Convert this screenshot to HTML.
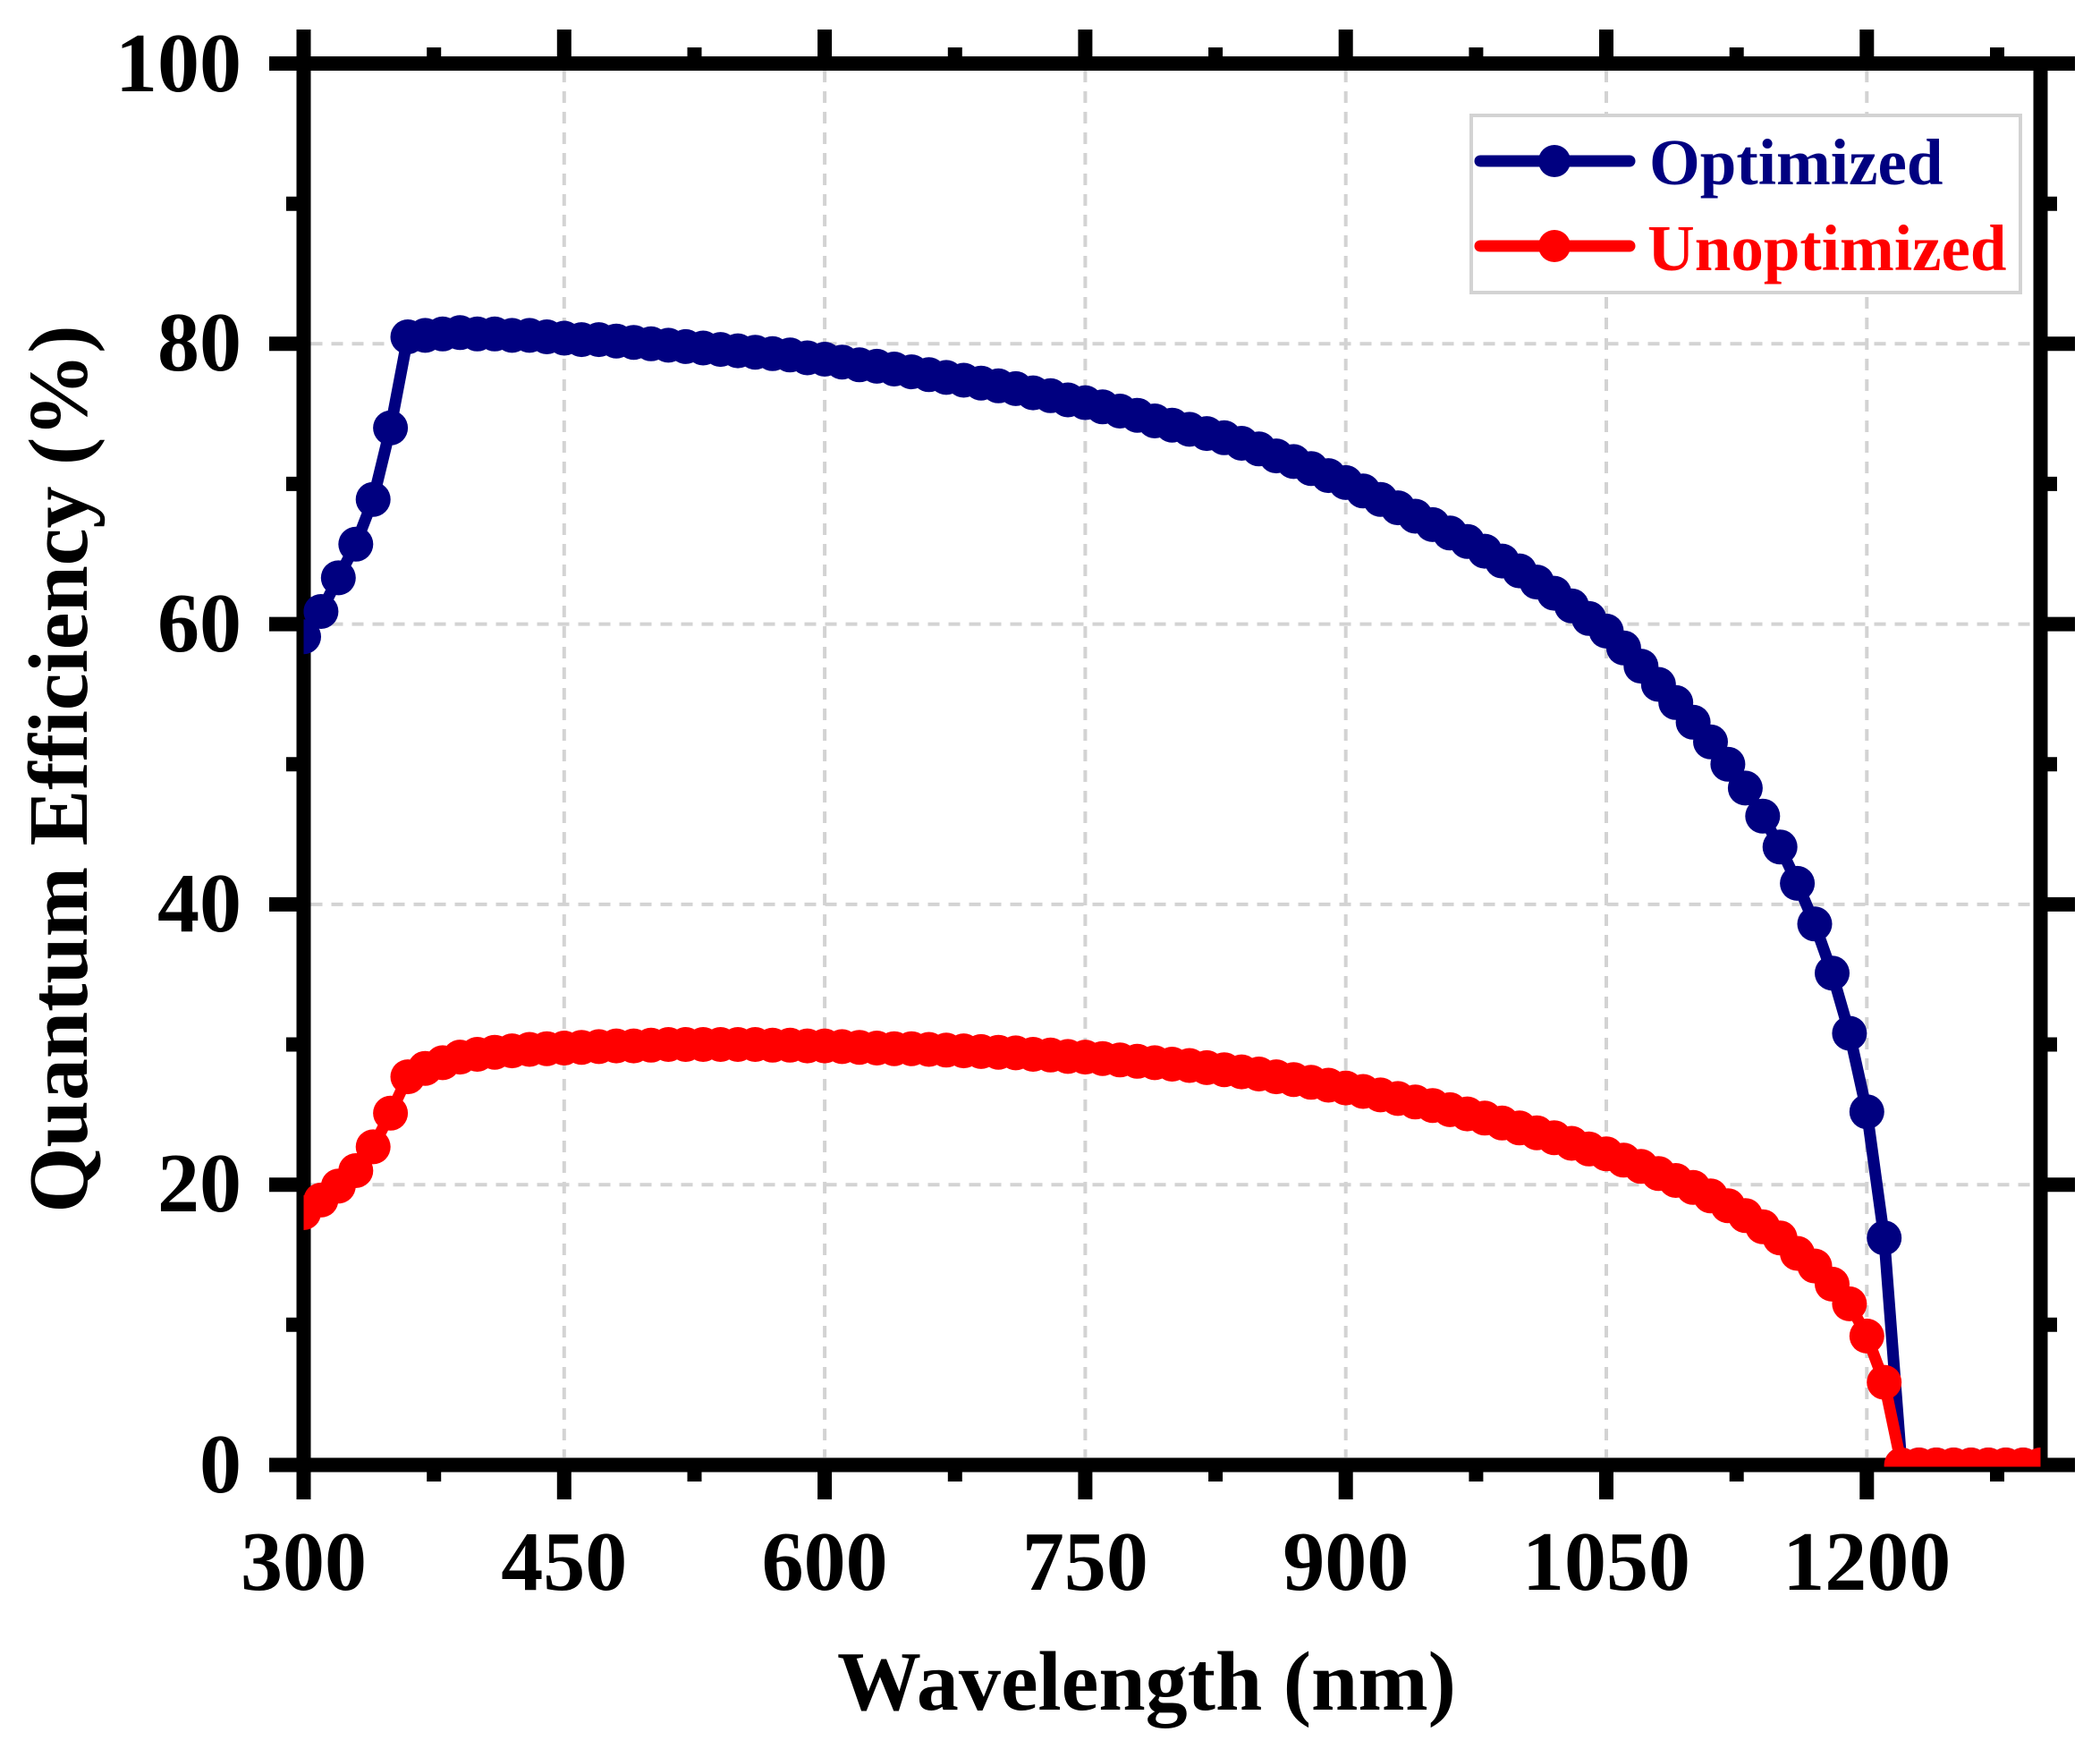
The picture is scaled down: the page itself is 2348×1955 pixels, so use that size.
<!DOCTYPE html>
<html>
<head>
<meta charset="utf-8">
<style>
  html, body { margin: 0; padding: 0; background: #ffffff; }
  svg { display: block; }
  text { font-family: "Liberation Serif", "Times New Roman", serif; font-weight: bold; }
</style>
</head>
<body>
<svg width="2348" height="1955" viewBox="0 0 2348 1955" xmlns="http://www.w3.org/2000/svg">
  <defs>
    <clipPath id="plotclip"><rect x="339.5" y="60" width="1942" height="1579.5"/></clipPath>
    <marker id="mb" markerUnits="userSpaceOnUse" markerWidth="40" markerHeight="40" refX="20" refY="20" viewBox="0 0 40 40" overflow="visible">
      <circle cx="20" cy="20" r="19.5" fill="#000080"/>
    </marker>
    <marker id="mr" markerUnits="userSpaceOnUse" markerWidth="40" markerHeight="40" refX="20" refY="20" viewBox="0 0 40 40" overflow="visible">
      <circle cx="20" cy="20" r="19.5" fill="#ff0000"/>
    </marker>
  </defs>

  <rect x="0" y="0" width="2348" height="1955" fill="#ffffff"/>

  <!-- grid -->
  <g stroke="#d3d3d3" stroke-width="4" stroke-dasharray="13 10" fill="none">
    <path d="M630.8 79 V1629 M922.1 79 V1629 M1213.4 79 V1629 M1504.7 79 V1629 M1796.0 79 V1629 M2087.3 79 V1629"/>
    <path d="M347.5 1324.2 H2273.5 M347.5 1010.9 H2273.5 M347.5 697.6 H2273.5 M347.5 384.3 H2273.5"/>
  </g>

  <!-- axes frame -->
  <rect x="339.5" y="71" width="1942" height="1566.5" fill="none" stroke="#000" stroke-width="16"/>

  <!-- ticks -->
  <g stroke="#000" stroke-width="16" fill="none">
    <!-- left major -->
    <path d="M301 1637.5 H332 M301 1324.2 H332 M301 1010.9 H332 M301 697.6 H332 M301 384.3 H332 M301 71 H332"/>
    <!-- left minor -->
    <path d="M320 1480.8 H332 M320 1167.5 H332 M320 854.2 H332 M320 540.9 H332 M320 227.7 H332"/>
    <!-- right major -->
    <path d="M2289 1637.5 H2320 M2289 1324.2 H2320 M2289 1010.9 H2320 M2289 697.6 H2320 M2289 384.3 H2320 M2289 71 H2320"/>
    <!-- right minor -->
    <path d="M2289 1480.8 H2300 M2289 1167.5 H2300 M2289 854.2 H2300 M2289 540.9 H2300 M2289 227.7 H2300"/>
    <!-- bottom major -->
    <path d="M339.5 1645 V1676 M630.8 1645 V1676 M922.1 1645 V1676 M1213.4 1645 V1676 M1504.7 1645 V1676 M1796.0 1645 V1676 M2087.3 1645 V1676"/>
    <!-- bottom minor -->
    <path d="M485.2 1645 V1656 M776.5 1645 V1656 M1067.8 1645 V1656 M1359.1 1645 V1656 M1650.4 1645 V1656 M1941.7 1645 V1656 M2233.0 1645 V1656"/>
    <!-- top major -->
    <path d="M339.5 33 V64 M630.8 33 V64 M922.1 33 V64 M1213.4 33 V64 M1504.7 33 V64 M1796.0 33 V64 M2087.3 33 V64"/>
    <!-- top minor -->
    <path d="M485.2 53 V64 M776.5 53 V64 M1067.8 53 V64 M1359.1 53 V64 M1650.4 53 V64 M1941.7 53 V64 M2233.0 53 V64"/>
  </g>

  <!-- data -->
  <g clip-path="url(#plotclip)">
    <polyline fill="none" stroke="#000080" stroke-width="13" stroke-linejoin="round"
      marker-start="url(#mb)" marker-mid="url(#mb)" marker-end="url(#mb)"
      points="339.5,711.7 358.9,683.5 378.3,645.9 397.8,608.3 417.2,558.2 436.6,478.3 456.0,376.5 475.4,374.9 494.9,373.3 514.3,371.8 533.7,373.3 553.1,373.3 572.5,374.9 592.0,374.9 611.4,376.5 630.8,378.0 650.2,379.6 669.6,379.6 689.1,381.2 708.5,382.7 727.9,384.3 747.3,385.9 766.7,387.4 786.2,389.0 805.6,390.6 825.0,392.1 844.4,393.7 863.8,395.3 883.3,396.8 902.7,400.0 922.1,401.5 941.5,404.7 960.9,407.8 980.4,409.4 999.8,412.5 1019.2,415.6 1038.6,418.8 1058.0,421.9 1077.5,425.0 1096.9,428.2 1116.3,431.3 1135.7,434.4 1155.1,439.1 1174.6,442.3 1194.0,447.0 1213.4,450.1 1232.8,454.8 1252.2,459.5 1271.7,464.2 1291.1,470.5 1310.5,475.2 1329.9,479.9 1349.3,484.6 1368.8,489.3 1388.2,495.5 1407.6,501.8 1427.0,509.6 1446.4,515.9 1465.9,523.7 1485.3,531.6 1504.7,539.4 1524.1,548.8 1543.5,558.2 1563.0,567.6 1582.4,577.0 1601.8,586.4 1621.2,595.8 1640.6,605.2 1660.1,616.1 1679.5,627.1 1698.9,638.1 1718.3,650.6 1737.7,663.1 1757.2,677.2 1776.6,691.3 1796.0,705.4 1815.4,724.2 1834.8,744.6 1854.3,765.0 1873.7,785.3 1893.1,807.3 1912.5,829.2 1931.9,854.2 1951.4,880.9 1970.8,912.2 1990.2,946.7 2009.6,987.4 2029.0,1032.8 2048.5,1087.7 2067.9,1155.0 2087.3,1242.7 2106.7,1383.7 2126.1,1637.5 2145.6,1637.5 2165.0,1637.5 2184.4,1637.5 2203.8,1637.5 2223.2,1637.5 2242.7,1637.5 2262.1,1637.5 2281.5,1637.5"/>
    <polyline fill="none" stroke="#ff0000" stroke-width="13" stroke-linejoin="round"
      marker-start="url(#mr)" marker-mid="url(#mr)" marker-end="url(#mr)"
      points="339.5,1355.5 358.9,1341.4 378.3,1325.8 397.8,1308.5 417.2,1281.9 436.6,1244.3 456.0,1203.6 475.4,1194.2 494.9,1187.9 514.3,1181.6 533.7,1178.5 553.1,1176.2 572.5,1174.6 592.0,1173.0 611.4,1172.2 630.8,1171.5 650.2,1170.7 669.6,1169.9 689.1,1169.1 708.5,1169.1 727.9,1168.3 747.3,1167.5 766.7,1167.5 786.2,1167.5 805.6,1167.5 825.0,1167.5 844.4,1167.5 863.8,1168.3 883.3,1168.3 902.7,1169.1 922.1,1169.1 941.5,1169.9 960.9,1170.7 980.4,1171.5 999.8,1172.2 1019.2,1172.2 1038.6,1173.0 1058.0,1173.8 1077.5,1174.6 1096.9,1175.4 1116.3,1176.2 1135.7,1176.9 1155.1,1178.5 1174.6,1179.3 1194.0,1180.9 1213.4,1181.6 1232.8,1183.2 1252.2,1184.8 1271.7,1186.3 1291.1,1187.9 1310.5,1189.5 1329.9,1191.0 1349.3,1193.4 1368.8,1195.7 1388.2,1198.1 1407.6,1200.5 1427.0,1203.6 1446.4,1206.7 1465.9,1209.8 1485.3,1213.0 1504.7,1216.1 1524.1,1220.0 1543.5,1223.9 1563.0,1227.9 1582.4,1231.8 1601.8,1235.7 1621.2,1240.4 1640.6,1245.1 1660.1,1249.8 1679.5,1255.3 1698.9,1260.8 1718.3,1266.2 1737.7,1271.7 1757.2,1278.0 1776.6,1284.3 1796.0,1289.7 1815.4,1296.8 1834.8,1303.8 1854.3,1311.7 1873.7,1319.5 1893.1,1327.3 1912.5,1336.7 1931.9,1347.7 1951.4,1358.7 1970.8,1371.2 1990.2,1383.7 2009.6,1401.0 2029.0,1415.1 2048.5,1435.4 2067.9,1457.4 2087.3,1493.4 2106.7,1545.1 2126.1,1637.5 2145.6,1637.5 2165.0,1637.5 2184.4,1637.5 2203.8,1637.5 2223.2,1637.5 2242.7,1637.5 2262.1,1637.5 2281.5,1637.5"/>
  </g>

  <!-- tick labels -->
  <g font-size="94" fill="#000" text-anchor="end">
    <text x="270" y="1668">0</text>
    <text x="270" y="1354">20</text>
    <text x="270" y="1041">40</text>
    <text x="270" y="728">60</text>
    <text x="270" y="414">80</text>
    <text x="270" y="102">100</text>
  </g>
  <g font-size="94" fill="#000" text-anchor="middle">
    <text x="339.5" y="1777">300</text>
    <text x="630.8" y="1777">450</text>
    <text x="922.1" y="1777">600</text>
    <text x="1213.4" y="1777">750</text>
    <text x="1504.7" y="1777">900</text>
    <text x="1796.0" y="1777">1050</text>
    <text x="2087.3" y="1777">1200</text>
  </g>

  <!-- axis titles -->
  <text x="936" y="1911" font-size="94" fill="#000">Wavelength (nm)</text>
  <text transform="translate(97,859.5) rotate(-90)" x="0" y="0" font-size="94" fill="#000" text-anchor="middle">Quantum Efficiency (%)</text>

  <!-- legend -->
  <rect x="1645" y="129" width="614" height="198" fill="#ffffff" stroke="#d3d3d3" stroke-width="4"/>
  <path d="M1655 180 H1822" stroke="#000080" stroke-width="13" stroke-linecap="round"/>
  <circle cx="1738" cy="180" r="18" fill="#000080"/>
  <text x="1844" y="206" font-size="73" fill="#000080">Optimized</text>
  <path d="M1655 275 H1822" stroke="#ff0000" stroke-width="13" stroke-linecap="round"/>
  <circle cx="1738" cy="275" r="18" fill="#ff0000"/>
  <text x="1842" y="302" font-size="73" fill="#ff0000">Unoptimized</text>
</svg>
</body>
</html>
